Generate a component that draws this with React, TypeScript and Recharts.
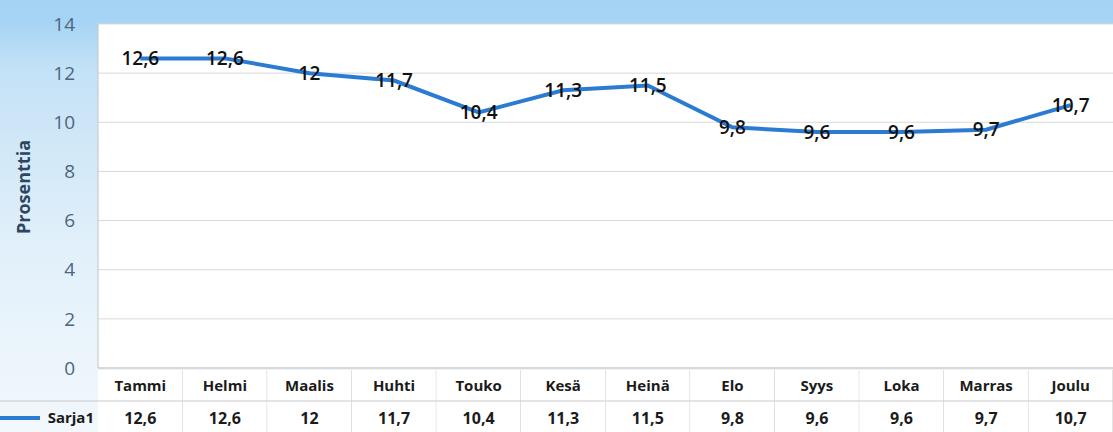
import React from 'react';
import { LineChart, Line, XAxis, YAxis, CartesianGrid, LabelList } from 'recharts';

const months = ['Tammi', 'Helmi', 'Maalis', 'Huhti', 'Touko', 'Kesä', 'Heinä', 'Elo', 'Syys', 'Loka', 'Marras', 'Joulu'];
const sarja1 = [12.6, 12.6, 12, 11.7, 10.4, 11.3, 11.5, 9.8, 9.6, 9.6, 9.7, 10.7];
const yTicks = [0, 2, 4, 6, 8, 10, 12, 14];

const data = months.map((m, i) => ({ name: m, Sarja1: sarja1[i] }));

const fmt = (v: number) => String(v).replace('.', ',');

const W = 1113;
const H = 432;
const LEFT = 98;
const TOP = 24;
const BOTTOM = 64;
const COL = (W - LEFT) / months.length;
const FONT = '"Open Sans", "Liberation Sans", sans-serif';

const TableTick = (props: any) => {
  const { x, y, payload, index } = props;
  const top = y - 6;
  const value = sarja1[index];
  return (
    <g>
      <rect x={x - COL / 2} y={top} width={COL} height={H - top} fill="#fff" />
      <line x1={x - COL / 2} x2={x + COL / 2} y1={top + 31} y2={top + 31} stroke="#c9c9c9" />
      <line x1={x + COL / 2} x2={x + COL / 2} y1={top} y2={H} stroke="#c9c9c9" />
      <text x={x} y={top + 21} textAnchor="middle" fontFamily={FONT} fontSize={15} fontWeight={700} fill="#1b1b1b">
        {payload.value}
      </text>
      <text x={x} y={top + 54} textAnchor="middle" fontFamily={FONT} fontSize={16} fontWeight={700} fill="#1b1b1b">
        {fmt(value)}
      </text>
      {index === 0 && (
        <g>
          <line x1={0} x2={x - COL / 2} y1={top + 31} y2={top + 31} stroke="#c9c9c9" />
          <line x1={0} x2={40} y1={top + 48} y2={top + 48} stroke="#2b7bd3" strokeWidth={4} />
          <text x={x - COL / 2 - 4} y={top + 53} textAnchor="end" fontFamily={FONT} fontSize={15} fontWeight={700} fill="#1b1b1b">
            Sarja1
          </text>
        </g>
      )}
    </g>
  );
};

const AxisTitle = () => (
  <text
    x={30}
    y={187}
    transform="rotate(-90 30 187)"
    textAnchor="middle"
    fontFamily={FONT}
    fontSize={18}
    fontWeight={700}
    fill="#2c4560"
  >
    Prosenttia
  </text>
);

export default function App() {
  return (
    <div
      style={{
        position: 'absolute',
        left: 0,
        top: 0,
        width: W,
        height: H,
        background: 'linear-gradient(to bottom, #a4d3f4 0px, #a6d4f4 22px, #c4e2f6 70px, #e2f0fa 250px, #f2f8fc 432px)',
      }}
    >
      <LineChart width={W} height={H} data={data} margin={{ top: TOP, right: 0, bottom: 0, left: 0 }}>
        <CartesianGrid vertical={false} stroke="#d9d9d9" fill="#ffffff" />
        <XAxis
          dataKey="name"
          height={BOTTOM}
          padding={{ left: COL / 2, right: COL / 2 }}
          tickLine={false}
          axisLine={{ stroke: '#c9c9c9' }}
          interval={0}
          tick={<TableTick />}
        />
        <YAxis
          width={LEFT}
          domain={[0, 14]}
          ticks={yTicks}
          interval={0}
          tickLine={false}
          axisLine={{ stroke: '#c4c4c4' }}
          tickMargin={17}
          tick={{ fill: '#4d657d', fontSize: 19, fontFamily: FONT }}
          label={<AxisTitle />}
        />
        <Line
          type="linear"
          dataKey="Sarja1"
          stroke="#2b7bd3"
          strokeWidth={4}
          dot={false}
          isAnimationActive={false}
        >
          <LabelList
            dataKey="Sarja1"
            position="center"
            formatter={(v: any) => fmt(v)}
            style={{ fill: '#111', fontSize: 19, fontWeight: 600, fontFamily: FONT }}
          />
        </Line>
      </LineChart>
    </div>
  );
}
